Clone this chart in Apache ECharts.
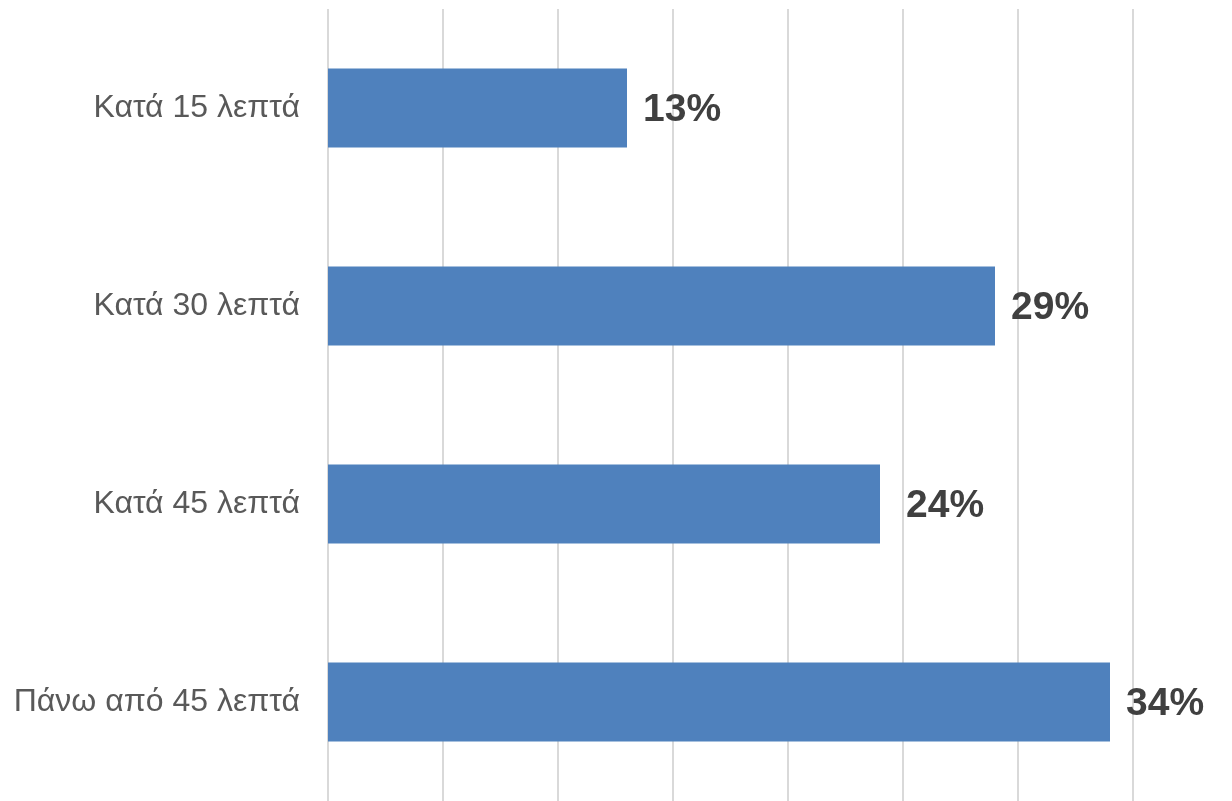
<!DOCTYPE html>
<html>
<head>
<meta charset="utf-8">
<script src="https://cdn.jsdelivr.net/npm/echarts@6/dist/echarts.min.js"></script>
<style>html,body{margin:0;padding:0;background:#fff}#c{width:1232px;height:801px}</style>
</head>
<body>
<div id="c"></div>
<script>
const categories = ['Κατά 15 λεπτά', 'Κατά 30 λεπτά', 'Κατά 45 λεπτά', 'Πάνω από 45 λεπτά'];
const values = [13, 29, 24, 34];
const labelOffsets = [0, 0, 10, 0];

const chart = echarts.init(document.getElementById('c'));
chart.setOption({
  animation: false,
  grid: { left: 328, right: 99, top: 9, bottom: -1, containLabel: false },
  xAxis: {
    type: 'value', min: 0, max: 35, interval: 5,
    axisLabel: { show: false },
    axisLine: { show: false },
    axisTick: { show: false },
    splitLine: { show: true, lineStyle: { color: '#d9d9d9', width: 2 } }
  },
  yAxis: {
    type: 'category', inverse: true, data: categories,
    axisLine: { show: false },
    axisTick: { show: false },
    axisLabel: { fontFamily: 'Liberation Sans, Arial, sans-serif', fontSize: 32, color: '#595959', margin: 28 }
  },
  series: [{
    type: 'bar',
    data: values.map((v, i) => ({ value: v, label: { distance: 16 + labelOffsets[i] } })),
    barCategoryGap: '60%',
    itemStyle: { color: '#4F81BD' },
    label: {
      show: true, position: 'right', formatter: '{c}%', offset: [0, 2],
      fontFamily: 'Liberation Sans, Arial, sans-serif', fontSize: 39, fontWeight: 'bold', color: '#404040'
    }
  }]
});
</script>
</body>
</html>
